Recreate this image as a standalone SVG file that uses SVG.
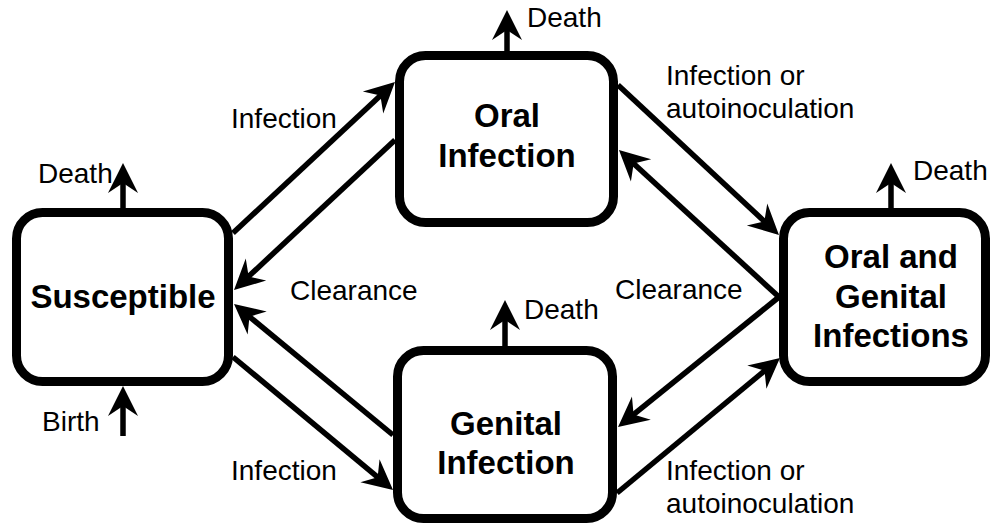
<svg xmlns="http://www.w3.org/2000/svg" width="995" height="525" viewBox="0 0 995 525">
<defs>
<style>
.box{fill:#fff;stroke:#000;stroke-width:9}
.title{font-family:"Liberation Sans",Arial,sans-serif;font-weight:bold;font-size:33px;text-anchor:middle;fill:#000}
.lbl{font-family:"Liberation Sans",Arial,sans-serif;font-size:28px;fill:#000}
.conn line{stroke:#000;stroke-width:5.5;marker-end:url(#ah)}
</style>
<marker id="ah" markerUnits="userSpaceOnUse" markerWidth="40" markerHeight="40" refX="15" refY="0" orient="auto" overflow="visible">
<path d="M30,0 L0,-15 L10,0 L0,15 Z" fill="#000"/>
</marker>
</defs>
<rect width="995" height="525" fill="#fff"/>
<g id="connectors" class="conn">
<line x1="233" y1="233" x2="384" y2="92.2"/>
<line x1="395" y1="140" x2="245" y2="279.8"/>
<line x1="393" y1="435" x2="245.6" y2="313.5"/>
<line x1="233" y1="357" x2="381.5" y2="480.4"/>
<line x1="618" y1="85" x2="768" y2="224.8"/>
<line x1="779" y1="297" x2="630" y2="160.2"/>
<line x1="779" y1="297" x2="629.7" y2="417.6"/>
<line x1="617" y1="493" x2="768.4" y2="367.6"/>
<line x1="123" y1="210" x2="123" y2="178"/>
<line x1="507" y1="54" x2="507" y2="25"/>
<line x1="505" y1="348" x2="505" y2="315"/>
<line x1="891" y1="210" x2="891" y2="178"/>
<line x1="123" y1="436" x2="123" y2="401"/>
</g>
<g id="susceptible">
<rect class="box" x="16.5" y="212.5" width="212" height="169" rx="26"/>
<text class="title" x="123" y="308">Susceptible</text>
</g>
<g id="oral">
<rect class="box" x="399.5" y="55.5" width="214" height="167" rx="26"/>
<text class="title" x="507" y="127">Oral</text>
<text class="title" x="507" y="167">Infection</text>
</g>
<g id="genital">
<rect class="box" x="397.5" y="350.5" width="215" height="168" rx="26"/>
<text class="title" x="506" y="435">Genital</text>
<text class="title" x="506" y="474">Infection</text>
</g>
<g id="oralgenital">
<rect class="box" x="783.5" y="212.5" width="202" height="169" rx="26"/>
<text class="title" x="891" y="268">Oral and</text>
<text class="title" x="891" y="308">Genital</text>
<text class="title" x="891" y="347">Infections</text>
</g>
<g id="labels">
<text class="lbl" x="231" y="128">Infection</text>
<text class="lbl" x="290" y="300">Clearance</text>
<text class="lbl" x="231" y="480">Infection</text>
<text class="lbl" x="666" y="85">Infection or</text>
<text class="lbl" x="666" y="118">autoinoculation</text>
<text class="lbl" x="615" y="299">Clearance</text>
<text class="lbl" x="666" y="480">Infection or</text>
<text class="lbl" x="666" y="513">autoinoculation</text>
<text class="lbl" x="527" y="27">Death</text>
<text class="lbl" x="38" y="183">Death</text>
<text class="lbl" x="524" y="319">Death</text>
<text class="lbl" x="913" y="180">Death</text>
<text class="lbl" x="42" y="431">Birth</text>
</g>
</svg>
